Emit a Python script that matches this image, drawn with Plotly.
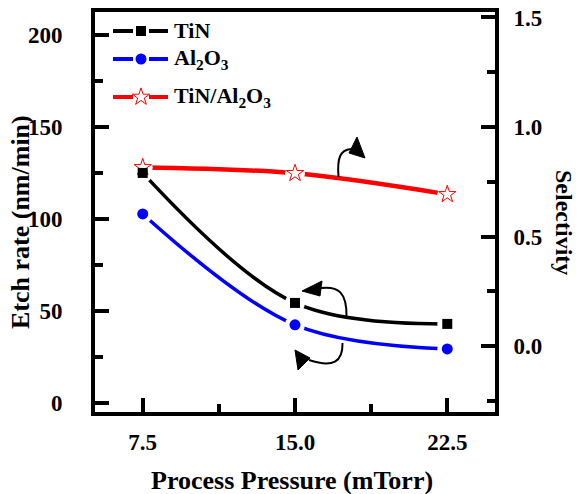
import plotly.graph_objects as go

# ---------------- data ----------------
pressure = [7.5, 15.0, 22.5]
etch_tin = [125.0, 54.3, 42.9]
etch_al2o3 = [102.7, 42.4, 29.3]
selectivity = [0.816, 0.789, 0.693]

series_names = ["TiN", "Al<sub>2</sub>O<sub>3</sub>", "TiN/Al<sub>2</sub>O<sub>3</sub>"]
series_colors = ["#000000", "#0000FF", "#FF0000"]

x_title = "Process Pressure (mTorr)"
y_title = "Etch rate (nm/min)"
y2_title = "Selectivity"

# ---------------- geometry ----------------
W, H = 579, 494
L, R, T, B = 95, 495, 12, 412  # plot frame (px)
HALO = "white"


def px(xp):
    return (xp - L) / (R - L)


def py(yp):
    return (B - yp) / (B - T)


FONT = "Liberation Serif"

fig = go.Figure()

fig.add_trace(go.Scatter(x=pressure, y=etch_tin, mode="lines",
                         line=dict(color=series_colors[0], width=3.5, shape="spline", smoothing=1.0),
                         xaxis="x", yaxis="y", hoverinfo="skip"))
fig.add_trace(go.Scatter(x=pressure, y=etch_al2o3, mode="lines",
                         line=dict(color=series_colors[1], width=3.5, shape="spline", smoothing=1.0),
                         xaxis="x", yaxis="y", hoverinfo="skip"))
for vals in (etch_tin, etch_al2o3):
    fig.add_trace(go.Scatter(x=pressure, y=vals, mode="markers",
                             marker=dict(symbol="circle", size=20, color=HALO),
                             xaxis="x", yaxis="y", hoverinfo="skip"))

fig.add_trace(go.Scatter(x=pressure, y=selectivity, mode="lines",
                         line=dict(color=series_colors[2], width=4.5, shape="spline", smoothing=1.0),
                         xaxis="x", yaxis="y2", hoverinfo="skip"))
fig.add_trace(go.Scatter(x=pressure, y=selectivity, mode="markers",
                         marker=dict(symbol="circle", size=20, color=HALO),
                         xaxis="x", yaxis="y2", hoverinfo="skip"))
fig.add_trace(go.Scatter(x=pressure, y=selectivity, mode="markers",
                         marker=dict(symbol="star-open", size=13, color=series_colors[2],
                                     line=dict(width=1, color=series_colors[2])),
                         xaxis="x", yaxis="y2", hoverinfo="skip"))

fig.add_trace(go.Scatter(x=pressure, y=etch_tin, mode="markers",
                         marker=dict(symbol="square", size=10, color=series_colors[0]),
                         xaxis="x", yaxis="y3", hoverinfo="skip"))
fig.add_trace(go.Scatter(x=pressure, y=etch_al2o3, mode="markers",
                         marker=dict(symbol="circle", size=11, color=series_colors[1]),
                         xaxis="x", yaxis="y3", hoverinfo="skip"))

# ---------------- manual legend ----------------
leg_rows = [31, 59, 97]
leg_symbols = ["square", "circle", "star-open"]
leg_sizes = [10, 11, 13]
shapes = []
for row, col in zip(leg_rows, series_colors):
    for x0, x1 in ((113, 133), (149, 168)):
        shapes.append(dict(type="line", xref="paper", yref="paper",
                           x0=px(x0), x1=px(x1), y0=py(row), y1=py(row),
                           line=dict(color=col, width=4)))
for row, col, sym, sz in zip(leg_rows, series_colors, leg_symbols, leg_sizes):
    fig.add_trace(go.Scatter(x=[px(141)], y=[py(row)], mode="markers",
                             marker=dict(symbol=sym, size=sz, color=col,
                                         line=dict(width=1 if sym == "star-open" else 0, color=col)),
                             xaxis="x2", yaxis="y4", hoverinfo="skip"))

annotations = []
for row, name in zip(leg_rows, series_names):
    annotations.append(dict(x=px(172), y=py(row), xref="paper", yref="paper",
                            text=name, showarrow=False, xanchor="left", yanchor="middle",
                            font=dict(family=FONT, size=22, color="black", weight="bold")))

titlefont = dict(family=FONT, size=26, color="black", weight="bold")
annotations.append(dict(x=px(292), y=py(481), xref="paper", yref="paper",
                        text=x_title, showarrow=False, xanchor="center", yanchor="middle",
                        font=titlefont))
annotations.append(dict(x=px(20), y=py(222), xref="paper", yref="paper",
                        text=y_title, showarrow=False, textangle=-90,
                        xanchor="center", yanchor="middle", font=titlefont))
annotations.append(dict(x=px(564), y=py(222), xref="paper", yref="paper",
                        text=y2_title, showarrow=False, textangle=90,
                        xanchor="center", yanchor="middle",
                        font=dict(family=FONT, size=24, color="black", weight="bold")))


def P(x, y):
    return f"{px(x):.5f},{py(y):.5f}"


arrow_curves = [
    [(338.5, 177), (337, 158), (340, 150), (351, 149)],
    [(346.5, 317), (347, 292), (338, 286), (321, 288)],
    [(342.5, 343), (343, 362), (333, 368), (309, 360)],
]
arrow_heads = [
    [(357, 137), (349, 153), (365, 158)],
    [(302, 291), (322, 281), (320, 296)],
    [(298, 370), (295, 350), (310, 358)],
]
for c in arrow_curves:
    shapes.append(dict(type="path", xref="paper", yref="paper",
                       path=f"M {P(*c[0])} C {P(*c[1])} {P(*c[2])} {P(*c[3])}",
                       line=dict(color="black", width=2)))
for h in arrow_heads:
    shapes.append(dict(type="path", xref="paper", yref="paper",
                       path=f"M {P(*h[0])} L {P(*h[1])} L {P(*h[2])} Z",
                       fillcolor="black", line=dict(color="black", width=1)))

tickfont = dict(family=FONT, size=23, color="black", weight="bold")

common = dict(showgrid=False, zeroline=False, automargin=False)
fig.update_layout(
    width=W, height=H,
    margin=dict(l=L, r=W - R, t=T, b=H - B, autoexpand=False),
    plot_bgcolor="white", paper_bgcolor="white",
    showlegend=False,
    hovermode=False,
    shapes=shapes,
    annotations=annotations,
    xaxis=dict(range=[5.15, 24.85], tickmode="linear", tick0=7.5, dtick=7.5, tickformat=".1f",
               ticks="inside", ticklen=14, tickwidth=4, tickcolor="black",
               minor=dict(ticks="inside", ticklen=8, tickwidth=4, tickcolor="black", dtick=3.75, tick0=7.5),
               showline=True, linewidth=4, linecolor="black", mirror=True,
               tickfont=tickfont, ticklabelstandoff=6, **common),
    yaxis=dict(range=[-5, 212.5], tickmode="linear", tick0=0, dtick=50,
               ticks="inside", ticklen=14, tickwidth=4, tickcolor="black",
               minor=dict(ticks="inside", ticklen=8, tickwidth=4, tickcolor="black", dtick=25, tick0=0),
               showline=True, linewidth=4, linecolor="black",
               tickfont=tickfont, ticklabelstandoff=24, **common),
    yaxis2=dict(range=[-0.3, 1.525], overlaying="y", side="right", tickmode="linear", tick0=0, dtick=0.5,
                tickformat=".1f",
                ticks="inside", ticklen=14, tickwidth=4, tickcolor="black",
                minor=dict(ticks="inside", ticklen=8, tickwidth=4, tickcolor="black", dtick=0.25, tick0=0),
                showline=True, linewidth=4, linecolor="black",
                tickfont=tickfont, ticklabelstandoff=10, **common),
    yaxis3=dict(range=[-5, 212.5], overlaying="y", visible=False, **common),
    xaxis2=dict(range=[0, 1], overlaying="x", visible=False, anchor="y4", **common),
    yaxis4=dict(range=[0, 1], overlaying="y", visible=False, anchor="x2", **common),
)

fig.write_html("out.html",
               config={"displayModeBar": False, "staticPlot": True},
               post_script="document.body.style.margin='0';document.body.style.overflow='hidden';")
